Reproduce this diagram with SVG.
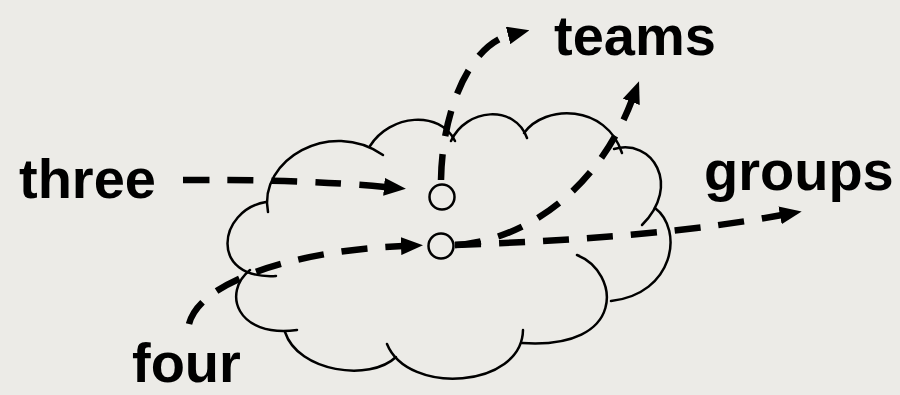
<svg xmlns="http://www.w3.org/2000/svg" width="900" height="395" viewBox="0 0 900 395">
  <style>
    .lbl { font-family: "Liberation Sans", Arial, sans-serif; font-weight: bold; font-size: 56px; fill: #000; }
    .cloud path { fill: none; stroke: #000; stroke-width: 2.5; stroke-linecap: round; }
    .conn { fill: none; stroke: #000; stroke-width: 6.5; stroke-dasharray: 26 18; }
    .port { fill: none; stroke: #000; stroke-width: 2.5; }
  </style>
  <defs>
    <marker id="ah" viewBox="0 0 22 18" markerWidth="22" markerHeight="18" refX="2" refY="9" orient="auto" markerUnits="userSpaceOnUse">
      <path d="M0,0 L22,9 L0,18 z" fill="#000"/>
    </marker>
  </defs>
  <rect width="900" height="395" fill="#ecebe7"/>

  <g id="cloud" class="cloud">
    <path d="M268,212 C258,160 330,118 383,155"/>
    <path d="M370,146 C390,114 440,110 455,141"/>
    <path d="M451,141 C466,108 515,104 527,138"/>
    <path d="M524,133 C545,104 606,104 622,153"/>
    <path d="M614,149 C652,138 682,185 642,225"/>
    <path d="M655,208 C684,230 674,294 611,301"/>
    <path d="M577,255 C620,272 628,350 522,343"/>
    <path d="M523,330 C522,388 408,396 387,344"/>
    <path d="M396,357 C370,382 298,372 285,332"/>
    <path d="M250,270 C222,292 236,338 297,330"/>
    <path d="M266,202 C218,210 208,280 276,276"/>
  </g>

  <g id="ports">
    <circle id="port-top" class="port" cx="442" cy="197" r="12.5"/>
    <circle id="port-bottom" class="port" cx="441" cy="246" r="12.5"/>
  </g>

  <g id="connectors">
    <path class="conn" d="M183,180 Q300,179 386,187" marker-end="url(#ah)"/>
    <path class="conn" d="M189,324 C200,280 300,250 403,246" marker-end="url(#ah)"/>
    <path class="conn" d="M441,180 C442,110 470,45 510,35" marker-end="url(#ah)"/>
    <path class="conn" d="M455,245 C530,240 600,185 632,100" marker-end="url(#ah)"/>
    <path class="conn" d="M455,245 C600,240 700,230 782,215" marker-end="url(#ah)"/>
  </g>

  <g id="labels">
    <text id="three" class="lbl" x="19" y="198">three</text>
    <text id="teams" class="lbl" x="554" y="55">teams</text>
    <text id="groups" class="lbl" x="704" y="190">groups</text>
    <text id="four" class="lbl" x="132" y="382">four</text>
  </g>
</svg>
